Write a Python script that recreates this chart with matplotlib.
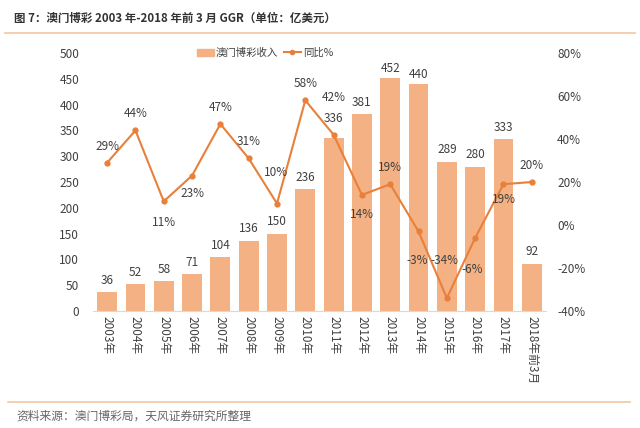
import matplotlib
matplotlib.use("Agg")
import matplotlib.pyplot as plt
from matplotlib.lines import Line2D
from matplotlib.patches import Patch

plt.rcParams['font.family'] = ['Noto Sans CJK SC', 'DejaVu Sans']

years = ["2003年", "2004年", "2005年", "2006年", "2007年", "2008年", "2009年", "2010年",
         "2011年", "2012年", "2013年", "2014年", "2015年", "2016年", "2017年", "2018年前3月"]
ggr = [36, 52, 58, 71, 104, 136, 150, 236, 336, 381, 452, 440, 289, 280, 333, 92]
yoy = [29, 44, 11, 23, 47, 31, 10, 58, 42, 14, 19, -3, -34, -6, 19, 20]

# label offsets for the yoy labels (points)
yoy_dx = [0, 0, 0, 0, 0, 0, -1, 0, 0, 0, 0, -1, -2, -2, 0, 0]
yoy_dy = [12, 12, -15, -13, 12, 12, 22, 12, 27, -14, 12, -21, 27, -23, -11, 12]
# bar label offsets (points)
bar_dy = [4, 4, 4, 4, 4, 4, 4, 4, 9, 4, 2, 2, 4, 4, 4, 4]

bar_color = "#F4B183"
line_color = "#E8803A"
text_color = "#404040"

fig = plt.figure(figsize=(6.4, 4.28), dpi=100)
ax = fig.add_axes([0.1453, 0.2734, 0.7077, 0.6026])
x = list(range(len(years)))

ax.bar(x, ggr, width=0.7, color=bar_color, zorder=2)
for xi, v, dy in zip(x, ggr, bar_dy):
    ax.annotate(str(v), (xi, v), xytext=(0, dy), textcoords="offset points",
                ha="center", va="bottom", fontsize=8.5, color=text_color)

ax.set_ylim(0, 500)
ax.set_xlim(-0.5, len(years) - 0.5)
ax.set_yticks(range(0, 501, 50))
ax.set_xticks(x)
ax.set_xticklabels(years, rotation=-90, va="top", ha="center", fontsize=8.5, color=text_color)
ax.tick_params(axis="both", length=0, labelsize=8.5, colors=text_color)
ax.tick_params(axis="y", pad=10)
for s in ["top", "right", "left"]:
    ax.spines[s].set_visible(False)
ax.spines["bottom"].set_color("#D9D9D9")

ax2 = ax.twinx()
ax2.plot(x, yoy, color=line_color, lw=1.5, marker="o", markersize=3.5, zorder=3)
for xi, v, dx, dy in zip(x, yoy, yoy_dx, yoy_dy):
    ax2.annotate(f"{v}%", (xi, v), xytext=(dx, dy), textcoords="offset points",
                 ha="center", va="center", fontsize=8.5, color=text_color)
ax2.set_ylim(-40, 80)
ax2.set_yticks(range(-40, 81, 20))
ax2.set_yticklabels([f"{t}%" for t in range(-40, 81, 20)])
ax2.tick_params(axis="y", length=0, labelsize=8.5, colors=text_color, pad=8)
for s in ["top", "right", "left", "bottom"]:
    ax2.spines[s].set_visible(False)

handles = [Patch(color=bar_color, label="澳门博彩收入"),
           Line2D([0], [0], color=line_color, lw=1.5, marker="o", markersize=3, label="同比%")]
fig.legend(handles=handles, loc="center", bbox_to_anchor=(265 / 640, 1 - 53 / 428), ncol=2,
           frameon=False, fontsize=7.5, handlelength=1.6, handleheight=0.7,
           columnspacing=0.6, handletextpad=0.2, labelcolor=text_color)

fig.text(14 / 640, 1 - 18 / 428, "图 7：澳门博彩 2003 年-2018 年前 3 月 GGR（单位：亿美元）",
         ha="left", va="center", fontsize=8.3, fontweight="bold", color="#333333")
fig.add_artist(Line2D([5 / 640, 635 / 640], [1 - 33 / 428, 1 - 33 / 428], color="#F2C79F", lw=1.2))
fig.add_artist(Line2D([8 / 640, 630 / 640], [1 - 402 / 428, 1 - 402 / 428], color="#F2C79F", lw=1.2))
fig.text(16 / 640, 1 - 416 / 428, "资料来源：澳门博彩局，天风证券研究所整理",
         ha="left", va="center", fontsize=8.5, color="#666666")

fig.savefig("out.png", dpi=100)
